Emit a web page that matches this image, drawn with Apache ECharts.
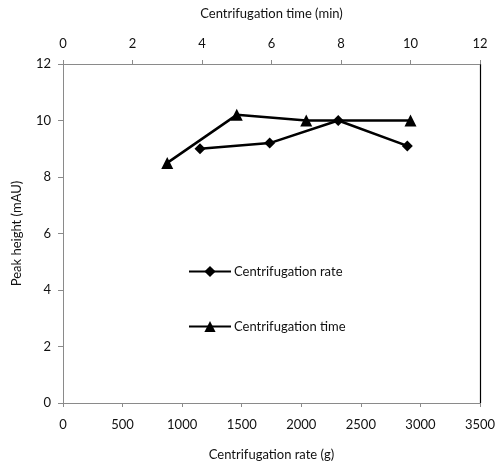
<!DOCTYPE html>
<html>
<head>
<meta charset="utf-8">
<script src="https://cdn.jsdelivr.net/npm/echarts@6/dist/echarts.min.js"></script>
<style>
  html, body { margin: 0; padding: 0; background: #fff; }
  #chart { width: 495px; height: 462px; }
</style>
</head>
<body>
<div id="chart"></div>
<script>
// rate series (bottom axis, g) and time series (top axis, min)
const rateX = [1150, 1735, 2310, 2890];
const rateY = [9.0, 9.2, 10.0, 9.1];
const timeX = [3, 5, 7, 10];
const timeY = [8.5, 10.2, 10.0, 10.0];

const font = 'Lato, "Liberation Sans", sans-serif';
const txt = { color: '#111', fontFamily: font, fontSize: 13 };
const grayLine = { onZero: false, lineStyle: { color: '#8a8a8a', width: 1 } };
const plain = v => String(v);

const chart = echarts.init(document.getElementById('chart'));

chart.setOption({
    animation: false,
    backgroundColor: '#fff',
    grid: { left: 63, right: 15, top: 64, bottom: 59, outerBoundsMode: 'none' },
    legend: {
        orient: 'vertical',
        left: 183,
        top: 260,
        itemWidth: 42,
        itemHeight: 14,
        itemGap: 42,
        textStyle: Object.assign({}, txt, { padding: [0, 0, 0, -2] }),
        data: ['Centrifugation rate', 'Centrifugation time']
    },
    xAxis: [{
        type: 'value',
        position: 'bottom',
        min: 0, max: 3500, interval: 500,
        name: 'Centrifugation rate (g)',
        nameLocation: 'middle',
        nameGap: 45,
        nameTextStyle: txt,
        axisLine: grayLine,
        axisTick: { show: true, length: 4, lineStyle: { color: '#8a8a8a' } },
        axisLabel: Object.assign({}, txt, { margin: 15, formatter: plain }),
        splitLine: { show: false }
    }, {
        type: 'value',
        position: 'top',
        min: 0, max: 12, interval: 2,
        name: 'Centrifugation time (min)',
        nameLocation: 'middle',
        nameGap: 44,
        nameTextStyle: txt,
        axisLine: grayLine,
        axisTick: { show: true, length: 4, lineStyle: { color: '#8a8a8a' } },
        axisLabel: Object.assign({}, txt, { margin: 14 }),
        splitLine: { show: false }
    }],
    yAxis: [{
        type: 'value',
        position: 'left',
        min: 0, max: 12, interval: 2,
        name: 'Peak height (mAU)',
        nameLocation: 'middle',
        nameGap: 40,
        nameTextStyle: txt,
        axisLine: { show: true, onZero: false, lineStyle: { color: '#8a8a8a', width: 1 } },
        axisTick: { show: true, length: 5, lineStyle: { color: '#8a8a8a' } },
        axisLabel: Object.assign({}, txt, { margin: 12 }),
        splitLine: { show: false }
    }, {
        type: 'value',
        position: 'right',
        min: 0, max: 12, interval: 2,
        axisLine: { show: true, onZero: false, lineStyle: { color: '#000', width: 1.2 } },
        axisTick: { show: false },
        axisLabel: { show: false },
        splitLine: { show: false }
    }],
    series: [{
        name: 'Centrifugation rate',
        type: 'line',
        xAxisIndex: 0,
        data: rateX.map((x, i) => [x, rateY[i]]),
        symbol: 'diamond',
        symbolSize: 11,
        itemStyle: { color: '#000' },
        lineStyle: { color: '#000', width: 2.5 }
    }, {
        name: 'Centrifugation time',
        type: 'line',
        xAxisIndex: 1,
        data: timeX.map((x, i) => [x, timeY[i]]),
        symbol: 'triangle',
        symbolSize: 12,
        itemStyle: { color: '#000' },
        lineStyle: { color: '#000', width: 2.5 }
    }]
});
</script>
</body>
</html>
